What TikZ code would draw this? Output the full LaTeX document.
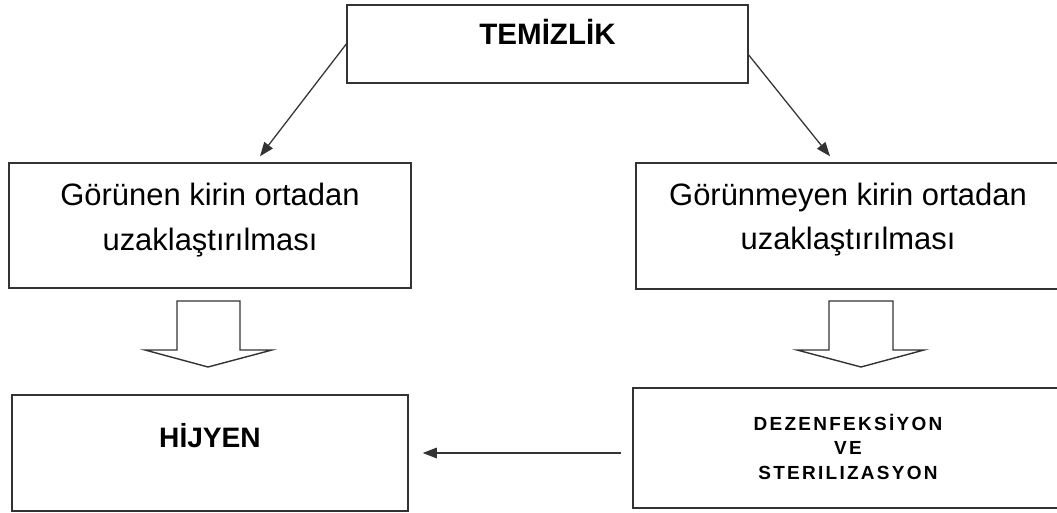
\documentclass[tikz,border=0pt]{standalone}
\usepackage{fontspec}
\setmainfont{Liberation Sans}
\newfontfamily\spacedfont[LetterSpace=12]{Liberation Sans}
\usetikzlibrary{arrows.meta}

\begin{document}
\begin{tikzpicture}[
  box/.style={draw=black!80, line width=1pt, inner sep=0pt, align=center},
  arr/.style={-{Triangle[length=10pt,width=7.5pt]}, line width=0.9pt, draw=black!80},
  hollow/.style={draw=black!80, line width=1pt, fill=white}
]
\useasboundingbox (0,0) rectangle (26.425,-12.825);
\clip (0,0) rectangle (26.425,-12.825);

\node[box, minimum width=10.025cm, text height=1.0cm, text depth=0.95cm,
  font=\fontsize{21}{25}\selectfont\bfseries] (temiz) at (13.6875,-1.1) {TEMİZLİK};

\node[box, minimum width=10.05cm, text height=2.175cm, text depth=0.95cm,
  font=\fontsize{22}{32}\selectfont] (gorunen) at (5.25,-5.6375)
  {Görünen kirin ortadan\\uzaklaştırılması};
\node[box, minimum width=10.6cm, text height=2.175cm, text depth=0.975cm,
  font=\fontsize{22}{32}\selectfont] (gorunmeyen) at (21.2,-5.65)
  {Görünmeyen kirin ortadan\\uzaklaştırılması};

\node[box, minimum width=9.9cm, text height=1.3cm, text depth=1.6cm,
  font=\fontsize{20}{24}\selectfont\bfseries] (hijyen) at (5.25,-11.325) {HİJYEN};
\node[box, minimum width=10.75cm, text height=2.275cm, text depth=0.725cm,
  font=\spacedfont\fontsize{13.5}{17.4}\selectfont\bfseries] (dezenf) at (21.2,-11.2)
  {DEZENFEKSİYON\\VE\\STERILIZASYON};

\draw[arr] (temiz.west) -- ([xshift=1.25cm,yshift=0.15cm]gorunen.north);
\draw[arr] ([yshift=-0.275cm]temiz.east) -- ([xshift=-0.45cm,yshift=0.15cm]gorunmeyen.north);

% hollow arrows
\draw[hollow] (4.425,-7.525) -- (6.0,-7.525) -- (6.0,-8.75) -- (6.8,-8.75)
  -- (5.2,-9.175) -- (3.625,-8.75) -- (4.425,-8.75) -- cycle;
\draw[hollow] (20.725,-7.525) -- (22.325,-7.525) -- (22.325,-8.75) -- (23.1,-8.75)
  -- (21.525,-9.175) -- (19.925,-8.75) -- (20.725,-8.75) -- cycle;

\draw[arr] ([xshift=-0.275cm]dezenf.west |- hijyen.east) -- ([xshift=0.35cm]hijyen.east);
\end{tikzpicture}
\end{document}
